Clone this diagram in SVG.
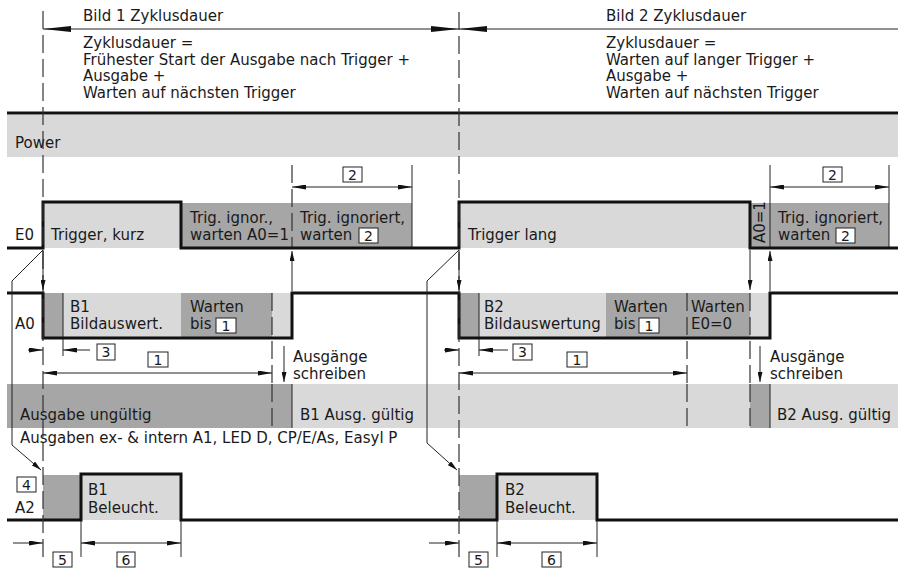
<svg xmlns="http://www.w3.org/2000/svg" width="898" height="570" viewBox="0 0 898 570">
<style>
text{font-family:"DejaVu Sans","Open Sans",sans-serif;font-size:15px;fill:#1a1a1a}
.lt{fill:#d9d9d9}
.dk{fill:#a6a6a6}
.sig{fill:none;stroke:#111;stroke-width:3}
.thin{fill:none;stroke:#222;stroke-width:1}
.dash{fill:none;stroke:#333;stroke-width:1.2;stroke-dasharray:18 6}
.box{fill:#fff;stroke:#222;stroke-width:1}
.bx{font-size:14px;text-anchor:middle}
</style>
<defs>
<marker id="ah" viewBox="0 0 14 5" refX="14" refY="2.5" markerWidth="14" markerHeight="5" orient="auto-start-reverse" markerUnits="userSpaceOnUse"><path d="M0,0 L14,2.5 L0,5 z" fill="#111"/></marker>
<marker id="ahL" viewBox="0 0 28 6" refX="28" refY="3" markerWidth="28" markerHeight="6" orient="auto-start-reverse" markerUnits="userSpaceOnUse"><path d="M0,0 L28,3 L0,6 z" fill="#111"/></marker>
<marker id="ahS" viewBox="0 0 10 5" refX="10" refY="2.5" markerWidth="10" markerHeight="5" orient="auto" markerUnits="userSpaceOnUse"><path d="M0,0 L10,2.5 L0,5 z" fill="#111"/></marker>
</defs>

<g id="cycle">
<line class="thin" x1="43" y1="29" x2="459" y2="29" marker-start="url(#ahL)" marker-end="url(#ahL)"/>
<line class="thin" x1="459" y1="29" x2="898" y2="29" marker-start="url(#ahL)"/>
<text x="83" y="21">Bild 1 Zyklusdauer</text>
<text x="83" y="48">Zyklusdauer =</text>
<text x="83" y="64.5">Frühester Start der Ausgabe nach Trigger +</text>
<text x="83" y="81">Ausgabe +</text>
<text x="83" y="97.5">Warten auf nächsten Trigger</text>
<text x="606" y="21">Bild 2 Zyklusdauer</text>
<text x="606" y="48">Zyklusdauer =</text>
<text x="606" y="64.5">Warten auf langer Trigger +</text>
<text x="606" y="81">Ausgabe +</text>
<text x="606" y="97.5">Warten auf nächsten Trigger</text>
</g>

<g id="power">
<line x1="7" y1="113" x2="898" y2="113" stroke="#111" stroke-width="3"/>
<rect class="lt" x="7" y="115" width="891" height="42"/>
<text x="15" y="148">Power</text>
</g>

<g id="E0">
<rect class="lt" x="43" y="202" width="138" height="46"/>
<rect class="dk" x="181" y="203" width="231" height="45"/>
<rect class="lt" x="459" y="202" width="291" height="46"/>
<rect class="dk" x="750" y="203" width="139" height="45"/>
<line class="dash" x1="292" y1="165" x2="292" y2="248"/>
<line class="thin" x1="412" y1="165" x2="412" y2="248"/>
<line class="thin" x1="770" y1="165" x2="770" y2="248"/>
<line class="thin" x1="889" y1="165" x2="889" y2="248"/>
<line class="thin" x1="292" y1="187" x2="412" y2="187" marker-start="url(#ah)" marker-end="url(#ah)"/>
<rect class="box" x="343" y="167" width="19" height="15"/><text class="bx" x="352.5" y="180">2</text>
<line class="thin" x1="770" y1="187" x2="889" y2="187" marker-start="url(#ah)" marker-end="url(#ah)"/>
<rect class="box" x="823" y="167" width="19" height="15"/><text class="bx" x="832.5" y="180">2</text>
<path class="sig" d="M7,248 H43 V202 H181 V248 H459 V202 H750 V248 H898"/>
<text x="15" y="240">E0</text>
<text x="51" y="240">Trigger, kurz</text>
<text x="190" y="223">Trig. ignor.,</text>
<text x="190" y="240">warten A0=1</text>
<text x="300" y="223">Trig. ignoriert,</text>
<text x="300" y="240">warten</text>
<rect class="box" x="359" y="228" width="19" height="15"/><text class="bx" x="368.5" y="241">2</text>
<text x="468" y="240">Trigger lang</text>
<text transform="translate(765,243) rotate(-90)">A0=1</text>
<text x="778" y="223">Trig. ignoriert,</text>
<text x="778" y="240">warten</text>
<rect class="box" x="836" y="228" width="19" height="15"/><text class="bx" x="845.5" y="241">2</text>
</g>

<g id="A0">
<rect class="dk" x="43" y="293" width="20" height="45"/>
<rect class="lt" x="63" y="293" width="118" height="45"/>
<rect class="dk" x="181" y="293" width="91" height="45"/>
<rect class="lt" x="272" y="293" width="20" height="45"/>
<rect class="dk" x="459" y="293" width="20" height="45"/>
<rect class="lt" x="479" y="293" width="127" height="45"/>
<rect class="dk" x="606" y="293" width="144" height="45"/>
<rect class="lt" x="750" y="293" width="20" height="45"/>
<line class="thin" x1="63" y1="293" x2="63" y2="356"/>
<line class="thin" x1="479" y1="293" x2="479" y2="356"/>
<line class="dash" x1="272" y1="293" x2="272" y2="428"/>
<line class="dash" x1="687" y1="293" x2="687" y2="428"/>
<line class="dash" x1="750" y1="293" x2="750" y2="428"/>
<path class="sig" d="M7,293 H43 V338 H292 V293 H459 V338 H770 V293 H898"/>
<text x="15" y="329">A0</text>
<text x="70" y="312">B1</text>
<text x="70" y="329">Bildauswert.</text>
<text x="190" y="312">Warten</text>
<text x="190" y="329">bis</text>
<rect class="box" x="216" y="318" width="20" height="15"/><text class="bx" x="226" y="331">1</text>
<text x="484" y="312">B2</text>
<text x="484" y="329">Bildauswertung</text>
<text x="614" y="312">Warten</text>
<text x="614" y="329">bis</text>
<rect class="box" x="639" y="318" width="20" height="15"/><text class="bx" x="649" y="331">1</text>
<text x="691" y="312">Warten</text>
<text x="691" y="329">E0=0</text>
<line class="thin" x1="28" y1="350" x2="43" y2="350" marker-end="url(#ah)"/>
<line class="thin" x1="90" y1="350" x2="63" y2="350" marker-end="url(#ah)"/>
<rect class="box" x="97" y="344" width="18" height="16"/><text class="bx" x="106" y="357">3</text>
<line class="thin" x1="444" y1="350" x2="459" y2="350" marker-end="url(#ah)"/>
<line class="thin" x1="508" y1="350" x2="479" y2="350" marker-end="url(#ah)"/>
<rect class="box" x="513" y="344" width="19" height="16"/><text class="bx" x="522.5" y="357">3</text>
<line class="thin" x1="43" y1="373" x2="272" y2="373" marker-start="url(#ah)" marker-end="url(#ah)"/>
<rect class="box" x="148" y="352" width="20" height="15"/><text class="bx" x="158" y="365">1</text>
<line class="thin" x1="459" y1="373" x2="687" y2="373" marker-start="url(#ah)" marker-end="url(#ah)"/>
<rect class="box" x="567" y="352" width="20" height="15"/><text class="bx" x="577" y="365">1</text>
<line class="thin" x1="284" y1="346" x2="284" y2="382" marker-end="url(#ahS)"/>
<text x="293" y="362">Ausgänge</text>
<text x="293" y="379">schreiben</text>
<line class="thin" x1="760" y1="346" x2="760" y2="382" marker-end="url(#ahS)"/>
<text x="770" y="362">Ausgänge</text>
<text x="770" y="379">schreiben</text>
</g>

<g id="outputs">
<rect class="dk" x="7" y="384" width="285" height="44"/>
<rect class="lt" x="292" y="384" width="606" height="44"/>
<rect class="dk" x="750" y="384" width="20" height="44"/>
<line class="dash" x1="272" y1="384" x2="272" y2="428"/>
<line class="dash" x1="687" y1="384" x2="687" y2="428"/>
<line class="dash" x1="750" y1="384" x2="750" y2="428"/>
<line class="thin" x1="292" y1="384" x2="292" y2="428"/>
<line class="thin" x1="770" y1="384" x2="770" y2="428"/>
<text x="20" y="420">Ausgabe ungültig</text>
<text x="300" y="420">B1 Ausg. gültig</text>
<text x="777" y="420">B2 Ausg. gültig</text>
<text x="20" y="443">Ausgaben ex- &amp; intern A1, LED D, CP/E/As, Easyl P</text>
</g>

<g id="A2">
<rect class="dk" x="43" y="475" width="38" height="45"/>
<rect class="lt" x="81" y="474" width="100" height="46"/>
<rect class="dk" x="459" y="475" width="38" height="45"/>
<rect class="lt" x="497" y="474" width="100" height="46"/>
<line class="thin" x1="81" y1="520" x2="81" y2="557"/>
<line class="thin" x1="181" y1="520" x2="181" y2="557"/>
<line class="thin" x1="497" y1="520" x2="497" y2="557"/>
<line class="thin" x1="597" y1="520" x2="597" y2="557"/>
<path class="sig" d="M7,520 H81 V474 H181 V520 H497 V474 H597 V520 H898"/>
<rect class="box" x="17" y="477" width="19" height="15"/><text class="bx" x="26.5" y="490">4</text>
<text x="15" y="513">A2</text>
<text x="88" y="495">B1</text>
<text x="88" y="513">Beleucht.</text>
<text x="505" y="495">B2</text>
<text x="505" y="513">Beleucht.</text>
<line class="thin" x1="13" y1="543" x2="43" y2="543" marker-end="url(#ah)"/>
<line class="thin" x1="81" y1="543" x2="181" y2="543" marker-start="url(#ah)" marker-end="url(#ah)"/>
<rect class="box" x="53" y="552" width="19" height="15"/><text class="bx" x="62.5" y="565">5</text>
<rect class="box" x="117" y="552" width="18" height="15"/><text class="bx" x="126" y="565">6</text>
<line class="thin" x1="429" y1="543" x2="459" y2="543" marker-end="url(#ah)"/>
<line class="thin" x1="497" y1="543" x2="597" y2="543" marker-start="url(#ah)" marker-end="url(#ah)"/>
<rect class="box" x="469" y="552" width="19" height="15"/><text class="bx" x="478.5" y="565">5</text>
<rect class="box" x="542" y="552" width="19" height="15"/><text class="bx" x="551.5" y="565">6</text>
</g>

<g id="connectors">
<line class="dash" x1="43" y1="11" x2="43" y2="557"/>
<line class="dash" x1="459" y1="12" x2="459" y2="557"/>
<line class="thin" x1="43" y1="250" x2="43" y2="290" marker-end="url(#ahS)"/>
<line class="thin" x1="459" y1="250" x2="459" y2="290" marker-end="url(#ahS)"/>
<line class="thin" x1="750" y1="250" x2="750" y2="290" marker-end="url(#ahS)"/>
<line class="thin" x1="292" y1="291" x2="292" y2="251" marker-end="url(#ahS)"/>
<line class="thin" x1="770" y1="291" x2="770" y2="251" marker-end="url(#ahS)"/>
<path class="thin" d="M43,250 L12,281 V445 L41,470" marker-end="url(#ahS)"/>
<path class="thin" d="M459,250 L427,281 V443 L457,470" marker-end="url(#ahS)"/>
</g>
</svg>
